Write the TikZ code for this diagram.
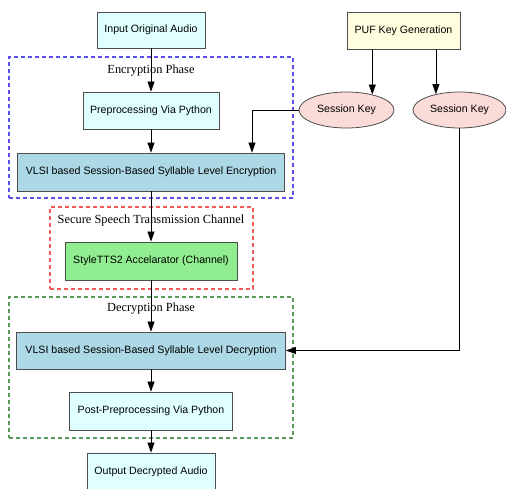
\documentclass[tikz,border=0pt]{standalone}
\usepackage{fontspec}
\setmainfont{Liberation Serif}
\setsansfont{Liberation Sans}
\usepackage{tikz}
\usetikzlibrary{arrows.meta, positioning, shapes.geometric}

\definecolor{inputcyan}{HTML}{E0FFFF}
\definecolor{pufyellow}{HTML}{FFFFE0}
\definecolor{keypink}{HTML}{FADBD8}
\definecolor{vlsiblue}{HTML}{ADD8E6}
\definecolor{ttsgreen}{HTML}{90EE90}
\definecolor{edgegray}{HTML}{4D4D4D}
\definecolor{encdash}{RGB}{90,80,235}
\definecolor{chandash}{RGB}{240,90,90}
\definecolor{decdash}{RGB}{90,155,90}

\begin{document}
\begin{tikzpicture}[
  x=1pt, y=-1pt,
  box/.style={draw=edgegray, line width=0.8pt, inner sep=0pt, align=center, font=\sffamily\fontsize{10.6}{12}\selectfont},
  key/.style={ellipse, draw=edgegray, line width=0.8pt, inner sep=0pt, fill=keypink, minimum width=95pt, minimum height=36pt, font=\sffamily\fontsize{10.6}{12}\selectfont},
  cluster/.style={dash pattern=on 4pt off 3pt, line width=1.1pt, inner sep=0pt},
  phase/.style={font=\rmfamily\fontsize{12.4}{14}\selectfont, inner sep=1pt},
  arrow/.style={-{Triangle[length=10pt, width=7pt]}, line width=0.7pt, black}
]
\useasboundingbox (0,0) rectangle (506,488);

% Clusters
\node[cluster, draw=encdash, minimum width=284pt, minimum height=141pt] (encph) at (151,127.5) {};
\node[phase] (enclbl) at (151,71) {Encryption Phase};
\node[cluster, draw=chandash, minimum width=203pt, minimum height=82pt] (chanph) at (151.5,248) {};
\node[phase] (chanlbl) at (151,221) {Secure Speech Transmission Channel};
\node[cluster, draw=decdash, minimum width=284pt, minimum height=141pt] (decph) at (151,367.5) {};
\node[phase] (declbl) at (151,309) {Decryption Phase};

% Main chain
\node[box, fill=inputcyan, minimum width=108pt, minimum height=36pt] (input) at (151,30) {Input Original Audio};
\node[box, fill=inputcyan, minimum width=136pt, minimum height=37pt] (prep) at (151,110.5) {Preprocessing Via Python};
\node[box, fill=vlsiblue, minimum width=267pt, minimum height=38pt] (enc) at (151,172) {VLSI based Session-Based Syllable Level Encryption};
\node[box, fill=ttsgreen, minimum width=172pt, minimum height=38pt] (tts) at (151,261) {StyleTTS2 Accelarator (Channel)};
\node[box, fill=vlsiblue, minimum width=269pt, minimum height=37pt] (dec) at (151,350.5) {VLSI based Session-Based Syllable Level Decryption};
\node[box, fill=inputcyan, minimum width=163pt, minimum height=38pt] (post) at (151,411) {Post-Preprocessing Via Python};
\node[box, fill=inputcyan, minimum width=128pt, minimum height=38pt] (output) at (151,472) {Output Decrypted Audio};

% Key generation
\node[box, fill=pufyellow, minimum width=113pt, minimum height=37pt] (puf) at (403.5,30.5) {PUF Key Generation};
\node[key] (sk1) at (346.5,110) {Session Key};
\node[key, minimum width=93pt] (sk2) at (459.5,110) {Session Key};
\coordinate (enckey) at (252,0);

% Edges
\draw[arrow] (input) -- (prep);
\draw[arrow] (prep) -- (enc);
\draw[arrow] (enc) -- (tts);
\draw[arrow] (tts) -- (dec);
\draw[arrow] (dec) -- (post);
\draw[arrow] (post) -- (output);
\draw[arrow] (puf.south -| sk1.31) -- (sk1.31);
\draw[arrow] (puf.south -| sk2.146) -- (sk2.146);
\draw[arrow] (sk1.west) -| (enckey |- enc.north);
\draw[arrow] (sk2.south) |- (dec.east);

\end{tikzpicture}
\end{document}
